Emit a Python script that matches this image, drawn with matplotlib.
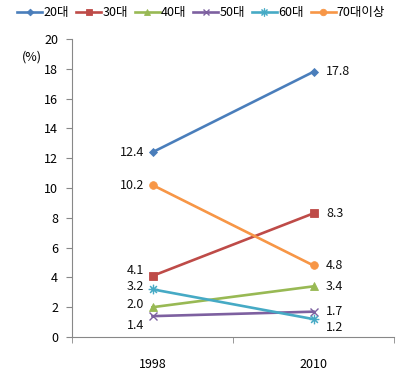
import matplotlib
matplotlib.use('Agg')
import matplotlib.pyplot as plt

plt.rcParams['font.family'] = ['Noto Sans CJK KR', 'DejaVu Sans']

years = ['1998', '2010']
series_names = ['20대', '30대', '40대', '50대', '60대', '70대이상']
v20 = [12.4, 17.8]
v30 = [4.1, 8.3]
v40 = [2.0, 3.4]
v50 = [1.4, 1.7]
v60 = [3.2, 1.2]
v70 = [10.2, 4.8]
yticks = list(range(0, 21, 2))

colors = ['#4A7EBB', '#BE4B48', '#98B954', '#7D60A0', '#46AAC5', '#F79646']
markers = ['D', 's', '^', 'x', '$\u2733$', 'o']
msizes = [4, 5.5, 5.5, 5.5, 6.5, 5.5]
# label offsets in points (left point, right point)
offs = [((-6, 0), (9, 0)),
        ((-6, 4), (9, 0)),
        ((-6, 2), (9, 0)),
        ((-6, -7), (9, 0)),
        ((-6, 2), (9, -6)),
        ((-6, 0), (9, 0))]

fig = plt.figure(figsize=(4.15, 3.78), dpi=100)
ax = fig.add_axes([72/415, 1-337/378, 322/415, 298/378])

data = [v20, v30, v40, v50, v60, v70]
xs = [0, 1]
for i, vals in enumerate(data):
    ax.plot(xs, vals, color=colors[i], lw=1.9, marker=markers[i], ms=msizes[i],
            mew=1.0 if markers[i] == 'x' else 0.6, label=series_names[i])
    for j in range(2):
        dx, dy = offs[i][j]
        ax.annotate(f'{vals[j]:.1f}', (xs[j], vals[j]), xytext=(dx, dy),
                    textcoords='offset points', ha='right' if j == 0 else 'left',
                    va='center', fontsize=9, color='#111111')

ax.set_xlim(-0.5, 1.5)
ax.set_ylim(0, 20)
ax.set_yticks(yticks)
ax.set_xticks(xs)
ax.set_xticklabels(years)
ax.set_xticks([-0.5, 0.5, 1.5], minor=True)
ax.tick_params(axis='x', which='major', length=0, pad=15, labelsize=9)
ax.tick_params(axis='x', which='minor', length=4, color='#888888')
ax.tick_params(axis='y', length=4, color='#888888', labelsize=9, pad=6)
for s in ['top', 'right']:
    ax.spines[s].set_visible(False)
for s in ['left', 'bottom']:
    ax.spines[s].set_color('#888888')

fig.text(22/415, 1-57/378, '(%)', fontsize=9, va='center', ha='left')

fig.legend(loc='upper center', bbox_to_anchor=(0.485, 1.0), ncol=6, frameon=False,
           fontsize=9, handlelength=2.0, handletextpad=0.1, columnspacing=0.55,
           borderaxespad=0.1, markerscale=0.85)

fig.savefig('out.png', dpi=100)
